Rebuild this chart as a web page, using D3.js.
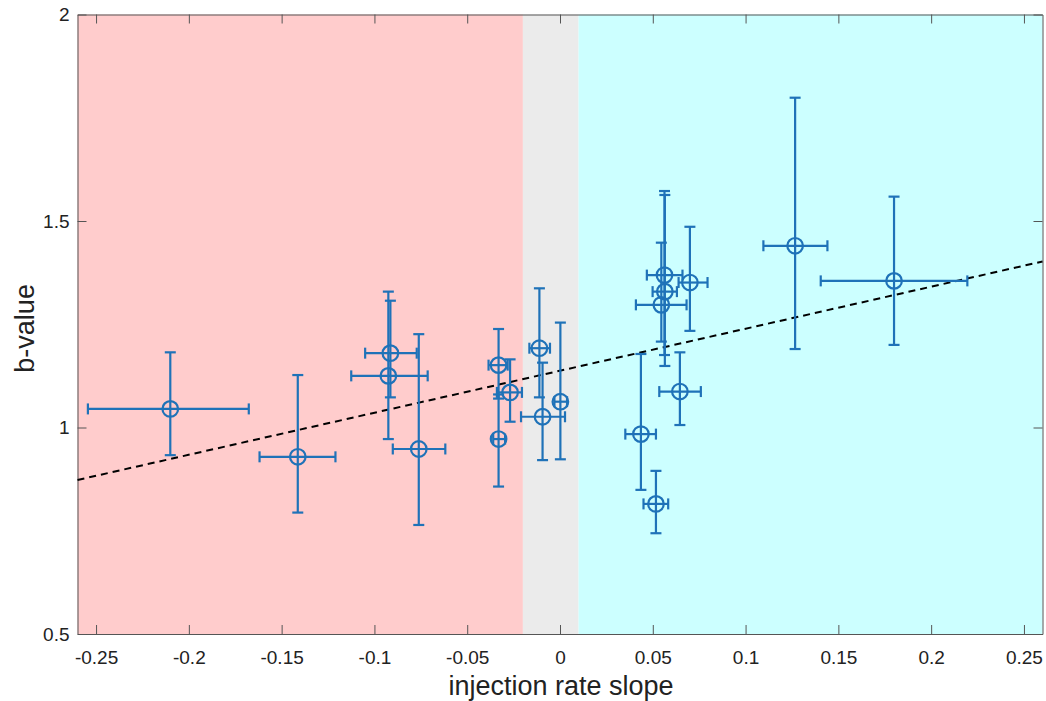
<!DOCTYPE html>
<html><head><meta charset="utf-8">
<script src="https://cdn.jsdelivr.net/npm/d3@7"></script>
<style>body{margin:0;background:#fff}svg{display:block}text{font-family:"Liberation Sans",Arial,sans-serif}</style>
</head><body>
<script>
// data
const slope  = [-0.210,-0.1413,-0.0914,-0.0925,-0.0761,-0.0331,-0.0269,-0.0331,-0.0111,-0.0094,0.0002,0.0563,0.0565,0.0546,0.0700,0.0646,0.0436,0.0517,0.1267,0.1800];
const bval   = [1.045,0.929,1.180,1.125,0.948,1.151,1.085,0.972,1.192,1.026,1.0625,1.369,1.329,1.297,1.351,1.087,0.984,0.815,1.440,1.355];
const xLo    = [-0.2544,-0.1619,-0.1050,-0.1125,-0.0901,-0.0385,-0.0340,-0.0360,-0.0165,-0.0210,-0.0030,0.0468,0.0499,0.0409,0.0639,0.0535,0.0352,0.0450,0.1096,0.1405];
const xHi    = [-0.1677,-0.1210,-0.0772,-0.0713,-0.0618,-0.0282,-0.0205,-0.0296,-0.0054,0.0027,0.0038,0.0660,0.0630,0.0682,0.0795,0.0759,0.0517,0.0583,0.1441,0.2195];
const yLo    = [0.933,0.794,1.073,0.972,0.764,1.070,1.014,0.857,1.073,0.921,0.923,1.1755,1.149,1.208,1.234,1.006,0.849,0.744,1.190,1.200];
const yHi    = [1.182,1.127,1.307,1.329,1.226,1.2385,1.165,1.080,1.337,1.157,1.254,1.5726,1.563,1.4475,1.486,1.182,1.178,0.895,1.7985,1.559];
const fitX   = [-0.26, 0.26];
const fitY   = [0.873, 1.402];
const regions = [[-0.26,-0.02,"#ffcccc"],[-0.02,0.01,"#ebebeb"],[0.01,0.26,"#ccffff"]];
const xTicks = [-0.25,-0.2,-0.15,-0.1,-0.05,0,0.05,0.1,0.15,0.2,0.25];
const yTicks = [0.5,1,1.5,2];

const W=1046,H=701;
const svg=d3.select("body").append("svg").attr("width",W).attr("height",H);
const x=d3.scaleLinear().domain([-0.26,0.26]).range([77.5,1042.5]);
const y=d3.scaleLinear().domain([0.5,2]).range([634,14.5]);
const blue="#1f72b8", axc="#555";

svg.selectAll("rect.bg").data(regions).join("rect")
  .attr("x",d=>x(d[0])).attr("width",d=>x(d[1])-x(d[0]))
  .attr("y",y(2)).attr("height",y(0.5)-y(2)).attr("fill",d=>d[2]);

// axes
const fmt=d=>String(d);
const tl=9;
svg.append("g").attr("transform",`translate(0,${y(0.5)})`)
  .call(d3.axisBottom(x).tickValues(xTicks).tickFormat(fmt).tickSizeInner(-tl).tickSizeOuter(0).tickPadding(17))
  .call(g=>{g.select(".domain").attr("stroke",axc);g.selectAll("line").attr("stroke",axc);g.selectAll("text").attr("font-size",19).attr("fill","#222");});
svg.append("g").attr("transform",`translate(0,${y(2)})`)
  .call(d3.axisTop(x).tickValues(xTicks).tickFormat("").tickSizeInner(-tl).tickSizeOuter(0))
  .call(g=>{g.select(".domain").attr("stroke",axc);g.selectAll("line").attr("stroke",axc);});
svg.append("g").attr("transform",`translate(${x(-0.26)},0)`)
  .call(d3.axisLeft(y).tickValues(yTicks).tickFormat(fmt).tickSizeInner(-tl).tickSizeOuter(0).tickPadding(8))
  .call(g=>{g.select(".domain").attr("stroke",axc);g.selectAll("line").attr("stroke",axc);g.selectAll("text").attr("font-size",19).attr("fill","#222");});
svg.append("g").attr("transform",`translate(${x(0.26)},0)`)
  .call(d3.axisRight(y).tickValues(yTicks).tickFormat("").tickSizeInner(-tl).tickSizeOuter(0))
  .call(g=>{g.select(".domain").attr("stroke",axc);g.selectAll("line").attr("stroke",axc);});

// fit line
svg.append("path").datum(fitX.map((v,i)=>[v,fitY[i]]))
  .attr("d",d3.line().x(d=>x(d[0])).y(d=>y(d[1])))
  .attr("stroke","#000").attr("stroke-width",2).attr("stroke-dasharray","7,5").attr("fill","none");

// error bars
const cap=5.5;
const pts=slope.map((s,i)=>({x:s,y:bval[i],xl:xLo[i],xh:xHi[i],yl:yLo[i],yh:yHi[i]}));
const g=svg.append("g").attr("stroke",blue).attr("stroke-width",2.2).attr("fill","none");
pts.forEach(p=>{
  g.append("line").attr("x1",x(p.x)).attr("x2",x(p.x)).attr("y1",y(p.yl)).attr("y2",y(p.yh));
  g.append("line").attr("x1",x(p.x)-cap).attr("x2",x(p.x)+cap).attr("y1",y(p.yl)).attr("y2",y(p.yl));
  g.append("line").attr("x1",x(p.x)-cap).attr("x2",x(p.x)+cap).attr("y1",y(p.yh)).attr("y2",y(p.yh));
  g.append("line").attr("x1",x(p.xl)).attr("x2",x(p.xh)).attr("y1",y(p.y)).attr("y2",y(p.y));
  g.append("line").attr("x1",x(p.xl)).attr("x2",x(p.xl)).attr("y1",y(p.y)-cap).attr("y2",y(p.y)+cap);
  g.append("line").attr("x1",x(p.xh)).attr("x2",x(p.xh)).attr("y1",y(p.y)-cap).attr("y2",y(p.y)+cap);
  g.append("circle").attr("cx",x(p.x)).attr("cy",y(p.y)).attr("r",7.8);
});

svg.append("text").attr("x",561).attr("y",695).attr("text-anchor","middle").attr("font-size",27).attr("fill","#222").text("injection rate slope");
svg.append("text").attr("transform",`translate(34,${y(1.24)}) rotate(-90)`).attr("text-anchor","middle").attr("font-size",27).attr("fill","#222").text("b-value");
</script>
</body></html>
